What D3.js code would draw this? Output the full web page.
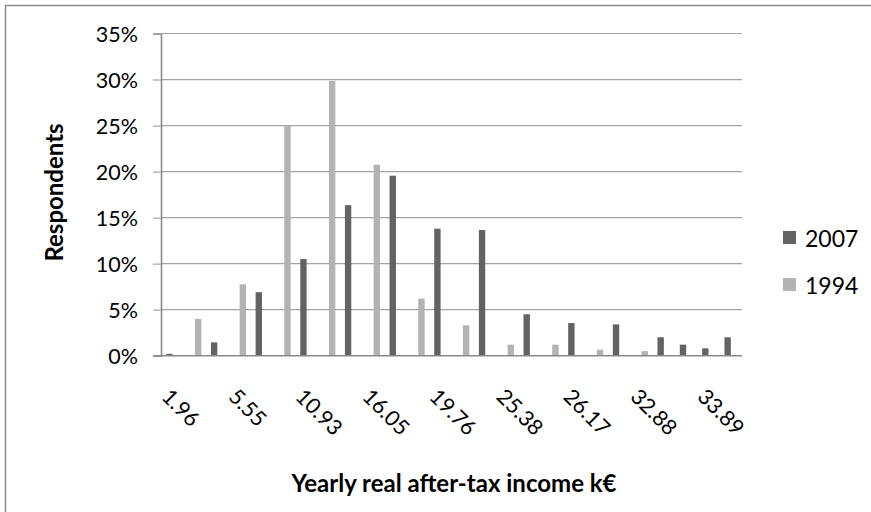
<!DOCTYPE html>
<html>
<head>
<meta charset="utf-8">
<script src="https://cdn.jsdelivr.net/npm/d3@7"></script>
<style>
  html, body { margin: 0; padding: 0; background: #fff; }
  svg { display: block; }
  text { font-family: Lato, "Open Sans", sans-serif; fill: #000; }
</style>
</head>
<body>
<svg id="chart" width="871" height="512"></svg>
<script>
// Share of respondents per income bracket (percent); brackets of both surveys
// are interleaved on one category axis, so each slot holds one survey's bar.
const series2007 = [0.2, null, 1.45, null, 6.9, null, 10.5, null, 16.35, null, 19.55, null, 13.8,
                    null, 13.65, null, 4.5, null, 3.55, null, 3.4, null, 2.0, 1.2, 0.8, 2.0];
const series1994 = [null, 4.0, null, 7.75, null, 25.0, null, 29.85, null, 20.75, null, 6.2, null,
                    3.3, null, 1.2, null, 1.2, null, 0.65, null, 0.5, null, null, null, null];
// Every third bracket carries its income label (k€)
const labelIndex = [0, 3, 6, 9, 12, 15, 18, 21, 24];
const tickLabels = ["1.96", "5.55", "10.93", "16.05", "19.76", "25.38", "26.17", "32.88", "33.89"];
const yTicks = [0, 5, 10, 15, 20, 25, 30, 35];
const seriesNames = ["2007", "1994"];
const seriesColors = { "2007": "#636363", "1994": "#b3b3b3" };

const svg = d3.select("#chart");

// Chart frame
svg.append("rect")
  .attr("x", 5.5).attr("y", 5.5).attr("width", 880).attr("height", 520)
  .attr("fill", "none").attr("stroke", "#8a8a8a").attr("stroke-width", 1.5);

const plot = { left: 161.5, right: 742, top: 33.5, bottom: 355.7 };

const x = d3.scaleBand()
  .domain(d3.range(series2007.length))
  .range([plot.left, plot.right])
  .paddingInner(0).paddingOuter(0);

// Clustered bars: 150% gap between clusters
const xs = d3.scaleBand()
  .domain(seriesNames)
  .range([0, x.bandwidth()])
  .paddingInner(0).paddingOuter(0.75);

const y = d3.scaleLinear().domain([0, 35]).range([plot.bottom, plot.top]);

// Gridlines
svg.append("g")
  .selectAll("line")
  .data(yTicks.filter(t => t > 0))
  .join("line")
  .attr("x1", plot.left).attr("x2", plot.right)
  .attr("y1", d => y(d)).attr("y2", d => y(d))
  .attr("stroke", "#a4a4a4").attr("stroke-width", 1.2);

// Y axis
const yAxis = svg.append("g")
  .attr("transform", `translate(${plot.left - 0.5},0)`)
  .call(d3.axisLeft(y).tickValues(yTicks).tickSize(8).tickPadding(15)
    .tickFormat(d => d + "%"));
yAxis.select(".domain").attr("stroke", "#8a8a8a").attr("stroke-width", 1.6);
yAxis.selectAll(".tick line").attr("stroke", "#a4a4a4").attr("stroke-width", 1.2);
yAxis.selectAll(".tick text")
  .style("font-size", "21.5px").attr("fill", "#1a1a1a").attr("dy", "0.36em");

// Bars
const bars = svg.append("g");
seriesNames.forEach(name => {
  const vals = name === "2007" ? series2007 : series1994;
  bars.append("g")
    .selectAll("rect")
    .data(vals.map((v, i) => ({ i, v })).filter(d => d.v != null))
    .join("rect")
    .attr("x", d => x(d.i) + xs(name))
    .attr("width", xs.bandwidth())
    .attr("y", d => y(d.v))
    .attr("height", d => plot.bottom - y(d.v))
    .attr("fill", seriesColors[name]);
});

// X axis baseline
svg.append("line")
  .attr("x1", plot.left - 8).attr("x2", plot.right)
  .attr("y1", plot.bottom).attr("y2", plot.bottom)
  .attr("stroke", "#8a8a8a").attr("stroke-width", 1.6);

// X axis labels, rotated
const xAxis = svg.append("g")
  .attr("transform", `translate(0,${plot.bottom})`)
  .call(d3.axisBottom(x).tickValues(labelIndex).tickSize(0)
    .tickFormat(i => tickLabels[labelIndex.indexOf(i)]));
xAxis.select(".domain").remove();
xAxis.selectAll(".tick text")
  .style("font-size", "21.5px").attr("fill", "#1a1a1a")
  .attr("text-anchor", "start")
  .attr("y", 0).attr("dy", "0.74em")
  .attr("transform", "translate(-1,31) rotate(45)");

// Axis titles
svg.append("text")
  .attr("x", 454).attr("y", 492)
  .attr("text-anchor", "middle")
  .style("font-size", "24px").style("font-weight", "bold")
  .text("Yearly real after-tax income k€");

svg.append("text")
  .attr("transform", "translate(63,192.5) rotate(-90)")
  .attr("text-anchor", "middle")
  .style("font-size", "24px").style("font-weight", "bold")
  .text("Respondents");

// Legend
const legend = svg.append("g");
seriesNames.forEach((name, k) => {
  const ly = 231 + k * 47;
  legend.append("rect")
    .attr("x", 783).attr("y", ly).attr("width", 13).attr("height", 13)
    .attr("fill", seriesColors[name]);
  legend.append("text")
    .attr("x", 805).attr("y", ly + 15.5)
    .style("font-size", "23px").attr("fill", "#1a1a1a")
    .text(name);
});
</script>
</body>
</html>
